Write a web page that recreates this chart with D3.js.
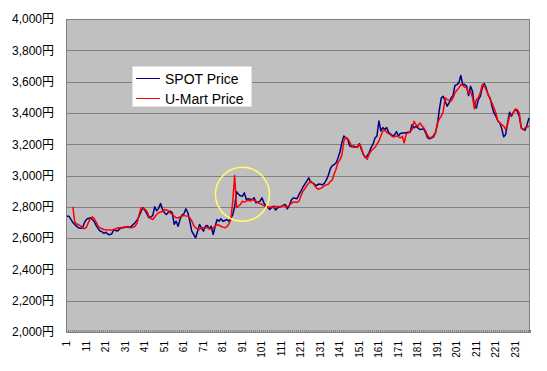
<!DOCTYPE html>
<html>
<head>
<meta charset="utf-8">
<script src="https://cdn.jsdelivr.net/npm/d3@7"></script>
<style>
  body { margin: 0; background: #fff; }
  text { font-family: "Liberation Sans", "Noto Sans CJK JP", sans-serif; }
</style>
</head>
<body>
<div id="chart"></div>
<script>
// SPOT price, days 1..238
const spot = [
  2740, 2740, 2720, 2700, 2687, 2675, 2666, 2662, 2666, 2700,
  2720, 2725, 2730, 2720, 2705, 2680, 2660, 2645, 2640, 2630,
  2638, 2625, 2622, 2628, 2655, 2648, 2645, 2660, 2666, 2666,
  2670, 2672, 2670, 2675, 2687, 2700, 2715, 2740, 2770, 2794,
  2778, 2755, 2730, 2735, 2745, 2800, 2775, 2790, 2821, 2783,
  2762, 2751, 2765, 2772, 2762, 2687, 2708, 2676, 2720, 2748,
  2755, 2787, 2762, 2708, 2644, 2623, 2602, 2644, 2687, 2666,
  2644, 2676, 2681, 2659, 2676, 2623, 2676, 2719, 2708, 2723,
  2708, 2712, 2719, 2708, 2726, 2748, 2801, 2896, 2880, 2870,
  2868, 2889, 2847, 2851, 2848, 2847, 2857, 2825, 2830, 2836,
  2857, 2825, 2804, 2800, 2783, 2795, 2804, 2779, 2793, 2800,
  2802, 2810, 2815, 2787, 2808, 2840, 2857, 2855, 2851, 2879,
  2900, 2925, 2945, 2964, 2985, 2957, 2953, 2943, 2935, 2945,
  2944, 2940, 2950, 2970, 3000, 3040, 3062, 3070, 3080, 3110,
  3150, 3210, 3253, 3240, 3232, 3189, 3183, 3189, 3180, 3185,
  3204, 3168, 3136, 3115, 3125, 3147, 3179, 3200, 3240, 3253,
  3349, 3285, 3306, 3295, 3306, 3275, 3264, 3253, 3260, 3281,
  3253, 3268, 3272, 3272, 3274, 3276, 3276, 3325, 3304, 3315,
  3304, 3294, 3296, 3298, 3272, 3240, 3234, 3240, 3247, 3272,
  3325, 3421, 3496, 3506, 3475, 3443, 3464, 3495, 3510, 3575,
  3581, 3592, 3639, 3581, 3581, 3570, 3511, 3570, 3538, 3443,
  3432, 3485, 3506, 3560, 3587, 3560, 3517, 3496, 3443, 3400,
  3379, 3350, 3336, 3300, 3247, 3262, 3336, 3404, 3379, 3405,
  3421, 3411, 3379, 3304, 3294, 3290, 3325, 3368
];

// U-Mart price, no trades on days 1..3
const umart = [
  null, null, null, 2800, 2702, 2690, 2685, 2678, 2665, 2660,
  2670, 2700, 2725, 2736, 2725, 2700, 2676, 2665, 2660, 2655,
  2653, 2651, 2651, 2651, 2655, 2660, 2664, 2666, 2668, 2670,
  2672, 2670, 2668, 2666, 2670, 2676, 2698, 2750, 2794, 2790,
  2785, 2772, 2740, 2725, 2719, 2735, 2751, 2762, 2767, 2772,
  2783, 2780, 2775, 2760, 2751, 2740, 2730, 2730, 2735, 2740,
  2745, 2742, 2740, 2730, 2710, 2680, 2666, 2658, 2655, 2666,
  2666, 2666, 2666, 2664, 2655, 2665, 2676, 2687, 2682, 2676,
  2670, 2666, 2672, 2690, 2716, 2830, 3000, 2795, 2805, 2815,
  2836, 2830, 2836, 2842, 2836, 2847, 2840, 2836, 2825, 2821,
  2815, 2808, 2800, 2793, 2797, 2800, 2793, 2804, 2800, 2802,
  2804, 2808, 2804, 2800, 2810, 2820, 2830, 2830, 2828, 2836,
  2870, 2900, 2915, 2936, 2950, 2964, 2953, 2936, 2919, 2912,
  2918, 2923, 2934, 2940, 2944, 2960, 2970, 3008, 3040, 3083,
  3100, 3130, 3220, 3243, 3235, 3215, 3189, 3179, 3183, 3179,
  3200, 3179, 3136, 3119, 3104, 3136, 3157, 3170, 3179, 3200,
  3221, 3253, 3285, 3289, 3275, 3268, 3260, 3247, 3247, 3253,
  3247, 3240, 3251, 3208, 3268, 3270, 3280, 3294, 3347, 3325,
  3315, 3336, 3320, 3304, 3283, 3255, 3240, 3245, 3255, 3275,
  3336, 3360, 3379, 3411, 3496, 3485, 3480, 3475, 3496, 3528,
  3545, 3560, 3581, 3575, 3565, 3560, 3528, 3538, 3500, 3426,
  3485, 3496, 3528, 3581, 3575, 3549, 3517, 3490, 3464, 3432,
  3400, 3347, 3336, 3325, 3315, 3294, 3325, 3379, 3390, 3400,
  3426, 3421, 3400, 3304, 3294, 3304, 3310, 3315
];

const days = d3.range(1, spot.length + 1);
const dayLabels = days.filter(d => d % 10 === 1);
const yTicks = d3.range(2000, 4001, 200);
const seriesNames = ["SPOT Price", "U-Mart Price"];
const seriesColors = ["#000080", "#ff0000"];
// the circled spike: day and price at the centre of the ring
const highlight = { day: 91, price: 2880 };

const W = 547, H = 371;
const plot = { left: 66, right: 530, top: 19, bottom: 332 };

const svg = d3.select("#chart").append("svg")
  .attr("width", W)
  .attr("height", H);

const x = d3.scaleBand().domain(days).range([plot.left, plot.right]).paddingInner(0).paddingOuter(0);
const y = d3.scaleLinear().domain([2000, 4000]).range([plot.bottom, plot.top]);
const cx = d => x(d) + x.bandwidth() / 2;

// plot area
svg.append("rect")
  .attr("x", plot.left)
  .attr("y", plot.top)
  .attr("width", plot.right - plot.left)
  .attr("height", plot.bottom - plot.top)
  .attr("fill", "#c0c0c0");

// gridlines
svg.append("g")
  .selectAll("line")
  .data(yTicks)
  .join("line")
  .attr("x1", plot.left)
  .attr("x2", plot.right)
  .attr("y1", d => Math.round(y(d)) + 0.5)
  .attr("y2", d => Math.round(y(d)) + 0.5)
  .attr("stroke", "#808080")
  .attr("stroke-width", 1);

svg.append("rect")
  .attr("x", plot.left + 0.5)
  .attr("y", plot.top + 0.5)
  .attr("width", plot.right - plot.left - 1)
  .attr("height", plot.bottom - plot.top)
  .attr("fill", "none")
  .attr("stroke", "#808080")
  .attr("stroke-width", 1);

// y axis labels
const yAxis = svg.append("g")
  .attr("transform", `translate(${plot.left},0)`)
  .call(d3.axisLeft(y).tickValues(yTicks).tickSize(0).tickPadding(12)
    .tickFormat(d => d3.format(",")(d) + "円"));
yAxis.select(".domain").remove();
yAxis.selectAll("text")
  .attr("font-size", 12)
  .attr("font-family", "'Liberation Sans', 'Noto Sans CJK JP', sans-serif")
  .attr("fill", "#000");

// small category tick marks along the bottom edge
const xb = d3.scaleLinear().domain([0, days.length]).range([plot.left, plot.right]);
const xTickMarks = svg.append("g")
  .attr("transform", `translate(0,${plot.bottom})`)
  .call(d3.axisBottom(xb).tickValues(d3.range(0, days.length + 1)).tickSize(-2).tickFormat(""));
xTickMarks.select(".domain").attr("stroke", "#808080");
xTickMarks.selectAll(".tick line").attr("stroke", "#808080");

// rotated day labels
const xAxis = svg.append("g")
  .attr("transform", `translate(0,${plot.bottom})`)
  .call(d3.axisBottom(x).tickValues(dayLabels).tickSize(0));
xAxis.select(".domain").remove();
xAxis.selectAll("text")
  .attr("font-size", 10)
  .attr("font-family", "'Liberation Sans', sans-serif")
  .attr("fill", "#000")
  .attr("text-anchor", "end")
  .attr("dy", "0.35em")
  .attr("transform", "translate(0,9) rotate(-90)")
  .attr("x", 0)
  .attr("y", 0);

// series lines
const line = d3.line()
  .defined(d => d.v != null)
  .x(d => cx(d.day))
  .y(d => y(d.v));

const series = [spot, umart].map((arr, k) => ({
  name: seriesNames[k],
  color: seriesColors[k],
  points: arr.map((v, i) => ({ day: days[i], v }))
}));

svg.append("g")
  .selectAll("path")
  .data(series)
  .join("path")
  .attr("d", d => line(d.points))
  .attr("fill", "none")
  .attr("stroke", d => d.color)
  .attr("stroke-width", 1.5)
  .attr("stroke-linejoin", "round");

// highlight ring
svg.append("circle")
  .attr("cx", cx(highlight.day))
  .attr("cy", y(highlight.price))
  .attr("r", 27)
  .attr("fill", "none")
  .attr("stroke", "#ffff66")
  .attr("stroke-width", 1.5);

// legend
const legend = svg.append("g").attr("transform", "translate(132,66)");
legend.append("rect")
  .attr("x", 0.5)
  .attr("y", 0.5)
  .attr("width", 119)
  .attr("height", 40)
  .attr("fill", "#fff")
  .attr("stroke", "#e0e0e0");

const items = legend.selectAll("g.item")
  .data(series)
  .join("g")
  .attr("class", "item")
  .attr("transform", (d, i) => `translate(0,${12.5 + i * 20})`);
items.append("line")
  .attr("x1", 4)
  .attr("x2", 28)
  .attr("stroke", d => d.color)
  .attr("stroke-width", 1);
items.append("text")
  .attr("x", 33)
  .attr("y", 5)
  .attr("font-size", 14)
  .attr("fill", "#000")
  .text(d => d.name);
</script>
</body>
</html>
